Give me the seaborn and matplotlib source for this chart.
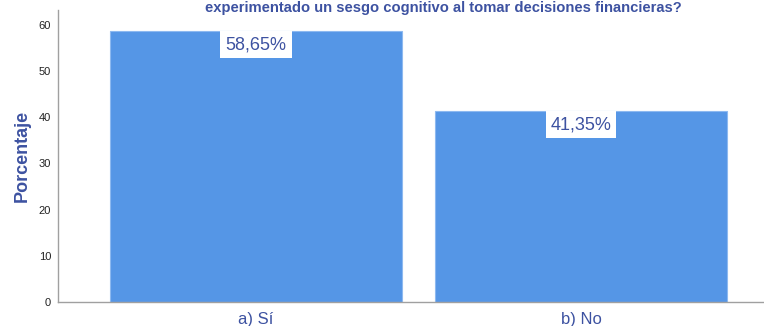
import matplotlib
matplotlib.use("Agg")
import matplotlib.pyplot as plt
import seaborn as sns
import pandas as pd

categories = ["a) Sí", "b) No"]
values = [58.65, 41.35]
labels = ["58,65%", "41,35%"]
yticks = [0, 10, 20, 30, 40, 50, 60]
title = "experimentado un sesgo cognitivo al tomar decisiones financieras?"

sns.set_theme(style="white")
plt.rcParams['font.family'] = ['Liberation Sans', 'DejaVu Sans']

df = pd.DataFrame({"cat": categories, "val": values})

fig = plt.figure(figsize=(7.64, 3.26), dpi=100)
ax = fig.add_axes([58/764, 1 - 302/326, (764-58)/764, (302-10)/326])

bar_color = "#5596E6"
text_color = "#3D52A1"

sns.barplot(data=df, x="cat", y="val", ax=ax, color=bar_color, width=0.9,
            saturation=1, edgecolor="#8DB9F0", linewidth=0.8)

ax.set_xlim(-0.609, 1.563)
ax.set_ylim(0, 63.2)
ax.set_yticks(yticks)
ax.set_yticklabels([str(t) for t in yticks], fontsize=8, color="#222222")
ax.tick_params(axis="y", length=0, pad=5)
ax.tick_params(axis="x", length=0, pad=7)
ax.set_xticklabels(categories, fontsize=12, color=text_color)
ax.set_xlabel("")
ax.set_ylabel("Porcentaje", fontsize=13, fontweight="bold", color=text_color, labelpad=6)

for s in ["top", "right"]:
    ax.spines[s].set_visible(False)
for s in ["left", "bottom"]:
    ax.spines[s].set_color("#A0A0A0")
    ax.spines[s].set_linewidth(1.0)

for i, (v, lab) in enumerate(zip(values, labels)):
    ax.text(i, v - 3.0, lab, ha="center", va="center", fontsize=13, color=text_color,
            bbox=dict(boxstyle="square,pad=0.28", facecolor="white", edgecolor="none"))

fig.text(443/764, 1 - 1/326, title, ha="center", va="top", fontsize=10.6,
         fontweight="bold", color=text_color)

fig.savefig("out.png", dpi=100)
